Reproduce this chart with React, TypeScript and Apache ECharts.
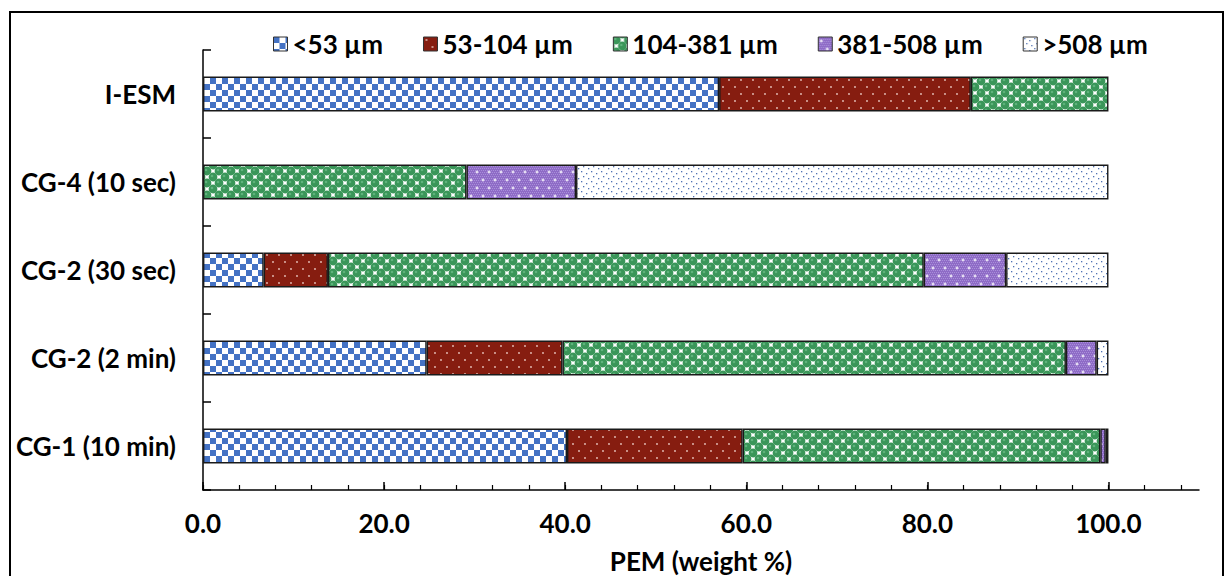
import React, { useEffect, useRef } from "react";
import * as echarts from "echarts";

const categories = ["I-ESM", "CG-4 (10 sec)", "CG-2 (30 sec)", "CG-2 (2 min)", "CG-1 (10 min)"];
const seriesNames = ["<53 µm", "53-104 µm", "104-381 µm", "381-508 µm", ">508 µm"];
const lt53 = [57.0, null, 6.7, 24.7, 40.2];
const s53to104 = [27.8, null, 7.1, 15.0, 19.4];
const s104to381 = [15.2, 29.1, 65.8, 55.6, 39.5];
const s381to508 = [null, 12.1, 9.1, 3.4, 0.6];
const gt508 = [null, 58.8, 11.3, 1.3, 0.3];
const majorTicks = [0, 20, 40, 60, 80, 100];
const minorTicks = [0, 4, 8, 12, 16, 20, 24, 28, 32, 36, 40, 44, 48, 52, 56, 60, 64, 68, 72, 76, 80, 84, 88, 92, 96, 100, 104, 108];

const FONT = "Lato";

function makePattern(w: number, h: number, draw: (ctx: CanvasRenderingContext2D) => void) {
  const c = document.createElement("canvas");
  c.width = w;
  c.height = h;
  const ctx = c.getContext("2d") as CanvasRenderingContext2D;
  draw(ctx);
  return { image: c, repeat: "repeat", imageWidth: w, imageHeight: h } as any;
}

function buildPatterns() {
  const blue = makePattern(12, 12, (ctx) => {
    ctx.fillStyle = "#ffffff";
    ctx.fillRect(0, 0, 12, 12);
    ctx.fillStyle = "#4472C4";
    ctx.fillRect(0, 0, 6, 6);
    ctx.fillRect(6, 6, 6, 6);
  });
  const red = makePattern(12, 14, (ctx) => {
    ctx.fillStyle = "#861D10";
    ctx.fillRect(0, 0, 12, 14);
    ctx.fillStyle = "#e9c6bf";
    ctx.beginPath();
    ctx.arc(3, 3, 0.9, 0, Math.PI * 2);
    ctx.fill();
    ctx.beginPath();
    ctx.arc(9, 10, 0.9, 0, Math.PI * 2);
    ctx.fill();
  });
  const green = makePattern(12, 12, (ctx) => {
    ctx.fillStyle = "#ffffff";
    ctx.fillRect(0, 0, 12, 12);
    const pts = [[3, 3], [9, 9], [-3, 9], [15, 3], [3, 15], [9, -3], [-3, -3], [15, 15]];
    for (const [x, y] of pts) {
      ctx.fillStyle = "#3A9659";
      ctx.beginPath();
      ctx.arc(x, y, 4.4, 0, Math.PI * 2);
      ctx.fill();
      ctx.fillStyle = "#5fb27c";
      ctx.beginPath();
      ctx.arc(x - 1, y - 1, 1.3, 0, Math.PI * 2);
      ctx.fill();
    }
  });
  const purple = makePattern(12, 16, (ctx) => {
    ctx.fillStyle = "#8E6BC6";
    ctx.fillRect(0, 0, 12, 16);
    ctx.fillStyle = "#A98FDA";
    for (let y = 0; y < 16; y += 2) {
      for (let x = (y / 2) % 2; x < 12; x += 2) {
        ctx.fillRect(x, y, 1, 1);
      }
    }
    ctx.fillStyle = "#ffffff";
    const crosses = [[3, 4], [9, 12]];
    for (const [x, y] of crosses) {
      ctx.fillRect(x - 1.5, y - 0.5, 3, 1);
      ctx.fillRect(x - 0.5, y - 1.5, 1, 3);
    }
  });
  const dotted = makePattern(10, 10, (ctx) => {
    ctx.fillStyle = "#ffffff";
    ctx.fillRect(0, 0, 10, 10);
    ctx.fillStyle = "#4F72B3";
    const pts = [[1, 1], [6, 3], [3, 6], [8, 8]];
    for (const [x, y] of pts) {
      ctx.fillRect(x, y, 1.3, 1.3);
    }
  });
  return [blue, red, green, purple, dotted];
}

export default function App() {
  const ref = useRef<HTMLDivElement>(null);
  useEffect(() => {
    if (!ref.current) return;
    const chart = echarts.init(ref.current, null, { renderer: "svg" });
    const patterns = buildPatterns();
    const dataSets = [lt53, s53to104, s104to381, s381to508, gt508];
    const series = seriesNames.map((name, i) => ({
      name,
      type: "bar",
      stack: "total",
      barWidth: 35,
      xAxisIndex: 0,
      yAxisIndex: 0,
      data: dataSets[i],
      itemStyle: {
        color: patterns[i],
        borderColor: "#1a1a1a",
        borderWidth: 1.4,
      },
      emphasis: { disabled: true },
    }));
    const labelStyle = { color: "#000", fontFamily: FONT, fontWeight: "bold", fontSize: 26 };
    chart.setOption({
      animation: false,
      backgroundColor: "#ffffff",
      textStyle: { fontFamily: FONT },
      graphic: [
        {
          type: "rect",
          shape: { x: 10, y: 12, width: 1213, height: 600 },
          style: { fill: "none", stroke: "#000", lineWidth: 2 },
          silent: true,
          z: -1,
        },
      ],
      legend: {
        top: 26,
        left: 268,
        icon: "rect",
        itemWidth: 14,
        itemHeight: 14,
        itemGap: 40,
        itemStyle: { borderColor: "#333", borderWidth: 1 },
        textStyle: { ...labelStyle, fontSize: 26 },
        data: seriesNames,
      },
      grid: { left: 203, right: 32, top: 50, bottom: 86, containLabel: false, outerBoundsMode: "none" },
      xAxis: [
        {
          type: "value",
          min: 0,
          max: 110,
          interval: 20,
          position: "bottom",
          name: "PEM (weight %)",
          nameLocation: "middle",
          nameGap: 58,
          nameTextStyle: { ...labelStyle, fontSize: 26 },
          axisLine: { show: true, lineStyle: { color: "#000", width: 1.5 } },
          axisTick: { show: true, inside: true, length: 8, customValues: majorTicks, lineStyle: { color: "#000", width: 1.5 } },
          axisLabel: {
            ...labelStyle,
            margin: 20,
            customValues: majorTicks,
            formatter: (v: number) => v.toFixed(1),
          },
          splitLine: { show: false },
        },
        {
          type: "value",
          min: 0,
          max: 110,
          interval: 4,
          position: "bottom",
          axisLine: { show: false },
          axisTick: { show: true, inside: true, length: 5, customValues: minorTicks, lineStyle: { color: "#000", width: 1.2 } },
          axisLabel: { show: false },
          splitLine: { show: false },
        },
      ],
      yAxis: {
        type: "category",
        data: categories,
        inverse: true,
        axisLine: { show: true, lineStyle: { color: "#000", width: 1.5 } },
        axisTick: { show: true, inside: true, length: 8, lineStyle: { color: "#000", width: 1.5 } },
        axisLabel: { ...labelStyle, margin: 27 },
        splitLine: { show: false },
      },
      series,
    });
    return () => chart.dispose();
  }, []);
  return <div ref={ref} style={{ position: "fixed", left: 0, top: 0, width: 1231, height: 576 }} />;
}
